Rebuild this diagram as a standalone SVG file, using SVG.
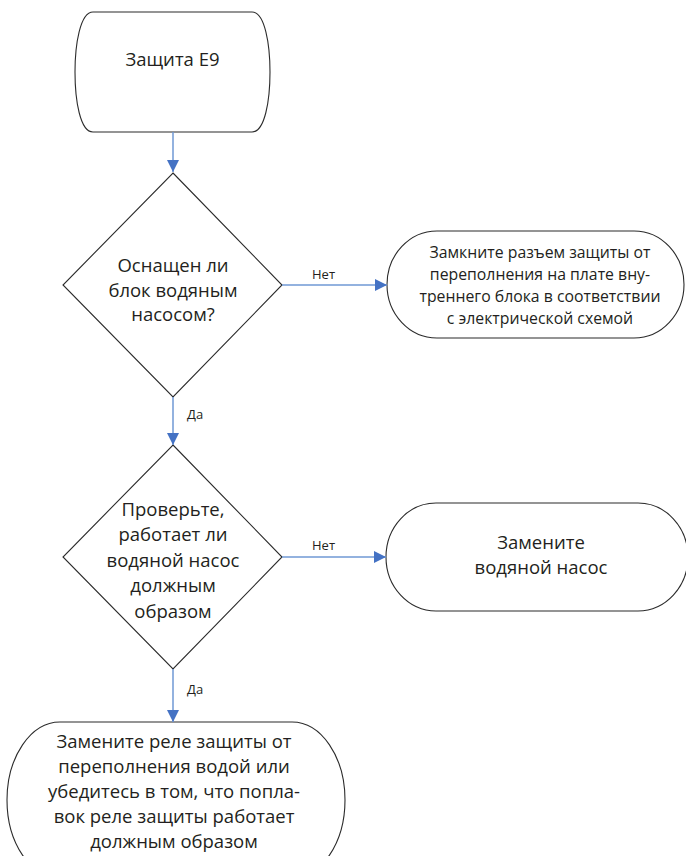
<svg xmlns="http://www.w3.org/2000/svg" width="686" height="856" viewBox="0 0 686 856">
<style>
.shape{fill:#ffffff;stroke:#2b2b2b;stroke-width:1.1}
.t{font-family:"Open Sans","Noto Sans",sans-serif;font-size:18.5px;fill:#231f20;text-anchor:middle}
.ts{font-family:"Open Sans","Noto Sans",sans-serif;font-size:15.8px;fill:#231f20;text-anchor:middle}
.lbl{font-family:"Open Sans","Noto Sans",sans-serif;font-size:13px;fill:#231f20}
.conn{fill:none;stroke:#6f98d4;stroke-width:1.5}
</style>
<defs>
<marker id="arr" viewBox="0 0 12 12" refX="12" refY="6" markerWidth="12" markerHeight="12" markerUnits="userSpaceOnUse" orient="auto">
<path d="M0,0 L12,6 L0,12 Z" fill="#4472c4"/>
</marker>
</defs>
<rect width="686" height="856" fill="#ffffff"/>
<g id="start">
<path class="shape" d="M93,12 H252 C265,12 270,45 270,72 C270,100 265,132 252,132 H93 C80,132 75,100 75,72 C75,45 80,12 93,12 Z"/>
<text class="t" x="172.5" y="66">Защита E9</text>
</g>
<g id="decision1">
<polygon class="shape" points="173,173 282,285 173,397 63,285"/>
<text class="t" x="173" y="272">Оснащен ли</text>
<text class="t" x="173" y="297">блок водяным</text>
<text class="t" x="173" y="321">насосом?</text>
</g>
<g id="action1">
<path class="shape" d="M437,231 H634 A50 53.5 0 0 1 634,338 H437 A50 53.5 0 0 1 437,231 Z"/>
<text class="ts" x="540" y="258">Замкните разъем защиты от</text>
<text class="ts" x="540" y="280">переполнения на плате вну-</text>
<text class="ts" x="540" y="302">треннего блока в соответствии</text>
<text class="ts" x="540" y="324">с электрической схемой</text>
</g>
<g id="decision2">
<polygon class="shape" points="173,445 282,557 173,669 63,557"/>
<text class="t" x="173" y="516">Проверьте,</text>
<text class="t" x="173" y="541">работает ли</text>
<text class="t" x="173" y="567">водяной насос</text>
<text class="t" x="173" y="592">должным</text>
<text class="t" x="173" y="618">образом</text>
</g>
<g id="action2">
<path class="shape" d="M436,503 H638 A50 54 0 0 1 638,611 H436 A50 54 0 0 1 436,503 Z"/>
<text class="t" x="541" y="549">Замените</text>
<text class="t" x="541" y="574">водяной насос</text>
</g>
<g id="action3">
<path class="shape" d="M60,722 H292 A53 78 0 0 1 292,878 H60 A53 78 0 0 1 60,722 Z"/>
<text class="t" x="174" y="748">Замените реле защиты от</text>
<text class="t" x="174" y="773">переполнения водой или</text>
<text class="t" x="174" y="798">убедитесь в том, что попла-</text>
<text class="t" x="174" y="823">вок реле защиты работает</text>
<text class="t" x="174" y="848">должным образом</text>
</g>
<g id="connectors">
<line class="conn" x1="173" y1="132" x2="173" y2="172" marker-end="url(#arr)"/>
<line class="conn" x1="173" y1="397" x2="173" y2="445" marker-end="url(#arr)"/>
<line class="conn" x1="173" y1="669" x2="173" y2="722" marker-end="url(#arr)"/>
<line class="conn" x1="282" y1="285" x2="387" y2="285" marker-end="url(#arr)"/>
<line class="conn" x1="282" y1="557" x2="386" y2="557" marker-end="url(#arr)"/>
<text class="lbl" x="187" y="419">Да</text>
<text class="lbl" x="187" y="694">Да</text>
<text class="lbl" x="312" y="279">Нет</text>
<text class="lbl" x="312" y="550">Нет</text>
</g>
</svg>
